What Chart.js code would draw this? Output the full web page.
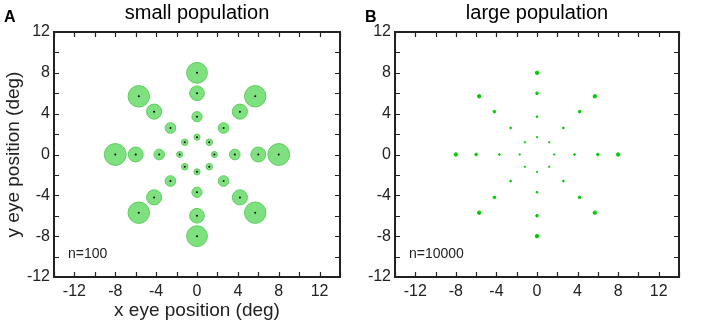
<!DOCTYPE html>
<html>
<head>
<meta charset="utf-8">
<script src="https://cdn.jsdelivr.net/npm/chart.js@4.4.0/dist/chart.umd.min.js"></script>
<style>
  html, body { margin: 0; padding: 0; background: #fff; }
  .panel { position: absolute; top: 0; width: 364px; height: 324px; }
</style>
</head>
<body>
<div class="panel" style="left:0"><canvas id="chartA" width="364" height="324"></canvas></div>
<div class="panel" style="left:364px"><canvas id="chartB" width="364" height="324"></canvas></div>
<script>
// eye positions (deg), 8 directions x 4 eccentricities
const xPos = [8, 6, 3.7, 1.7, 5.7, 4.2, 2.6, 1.2, 0, 0, 0, 0, -5.7, -4.2, -2.6, -1.2,
              -8, -6, -3.7, -1.7, -5.7, -4.2, -2.6, -1.2, 0, 0, 0, 0, 5.7, 4.2, 2.6, 1.2];
const yPos = [0, 0, 0, 0, 5.7, 4.2, 2.6, 1.2, 8, 6, 3.7, 1.7, 5.7, 4.2, 2.6, 1.2,
              0, 0, 0, 0, -5.7, -4.2, -2.6, -1.2, -8, -6, -3.7, -1.7, -5.7, -4.2, -2.6, -1.2];
// spread of the estimate (deg) for each point
const spreadSmall = [1.07, 0.73, 0.52, 0.3, 1.05, 0.74, 0.52, 0.32, 1.02, 0.72, 0.5, 0.3, 1.05, 0.74, 0.52, 0.32,
                     1.07, 0.73, 0.52, 0.3, 1.05, 0.74, 0.52, 0.32, 1.02, 0.72, 0.5, 0.3, 1.05, 0.74, 0.52, 0.32];
const spreadLarge = [0.17, 0.13, 0.09, 0.07, 0.17, 0.13, 0.09, 0.07, 0.17, 0.13, 0.09, 0.07, 0.17, 0.13, 0.09, 0.07,
                     0.17, 0.13, 0.09, 0.07, 0.17, 0.13, 0.09, 0.07, 0.17, 0.13, 0.09, 0.07, 0.17, 0.13, 0.09, 0.07];
const xTicks = [-12, -8, -4, 0, 4, 8, 12];
const yTicks = [-12, -8, -4, 0, 4, 8, 12];

const FONT = "'Liberation Sans', Arial, Helvetica, sans-serif";
const points = xPos.map((x, i) => ({ x: x, y: yPos[i] }));

// radius in pixels from a spread in deg, through the x scale
function spreadRadius(spread) {
    return ctx => {
        const s = ctx.chart.scales.x;
        return Math.abs(s.getPixelForValue(spread[ctx.dataIndex]) - s.getPixelForValue(0));
    };
}

// box round the plot, inward ticks, panel letter, title and n= label
const framePlugin = {
    id: 'frame',
    afterDraw(chart, args, opts) {
        const c = chart.ctx;
        const a = chart.chartArea;
        const sx = chart.scales.x, sy = chart.scales.y;
        c.save();
        c.strokeStyle = '#222';
        c.lineWidth = 1.2;
        c.beginPath();
        sx.ticks.forEach(t => {
            const px = Math.round(sx.getPixelForValue(t.value)) + 0.5;
            c.moveTo(px, a.bottom); c.lineTo(px, a.bottom - 5);
            c.moveTo(px, a.top); c.lineTo(px, a.top + 5);
        });
        sy.ticks.forEach(t => {
            const py = Math.round(sy.getPixelForValue(t.value)) + 0.5;
            c.moveTo(a.left, py); c.lineTo(a.left + 5, py);
            c.moveTo(a.right, py); c.lineTo(a.right - 5, py);
        });
        c.stroke();
        c.lineWidth = 2;
        c.strokeRect(a.left, a.top, a.right - a.left, a.bottom - a.top);

        c.fillStyle = '#000';
        c.font = 'bold 16px ' + FONT;
        c.textAlign = 'left';
        c.textBaseline = 'alphabetic';
        c.fillText(opts.letter, opts.letterX, 22);
        c.font = '20px ' + FONT;
        c.textAlign = 'center';
        c.fillText(opts.title, (a.left + a.right) / 2, 19);
        c.font = '14px ' + FONT;
        c.textAlign = 'left';
        c.fillStyle = '#222';
        c.fillText(opts.note, a.left + 14, a.bottom - 19);
        c.restore();
    }
};

function makeChart(id, spread, fill, border, showCentres, opts) {
    const datasets = [];
    if (showCentres) {
        datasets.push({
            data: points,
            order: 0,
            pointRadius: 1,
            pointBackgroundColor: '#000',
            pointBorderWidth: 0
        });
    }
    datasets.push({
        data: points,
        order: 1,
        pointRadius: spreadRadius(spread),
        pointBackgroundColor: fill,
        pointBorderColor: border,
        pointBorderWidth: 1
    });
    const tickFont = { family: FONT, size: 16 };
    return new Chart(document.getElementById(id), {
        type: 'scatter',
        data: { datasets: datasets },
        options: {
            responsive: false,
            animation: false,
            events: [],
            layout: { padding: { left: 0, right: opts.right, top: 32, bottom: 0 } },
            plugins: {
                legend: { display: false },
                tooltip: { enabled: false },
                frame: opts
            },
            scales: {
                x: {
                    type: 'linear', min: -14, max: 14,
                    afterBuildTicks: s => { s.ticks = [-14, -12, -10, -8, -6, -4, -2, 0, 2, 4, 6, 8, 10, 12, 14].map(v => ({ value: v })); },
                    afterFit: s => { s.height = 47; },
                    grid: { display: false, drawTicks: false },
                    border: { display: false },
                    ticks: {
                        autoSkip: false, maxRotation: 0, padding: 5,
                        color: '#222', font: tickFont,
                        callback: v => xTicks.includes(v) ? String(v) : ''
                    },
                    title: {
                        display: opts.axisTitles, text: 'x eye position (deg)',
                        color: '#222', font: { family: FONT, size: 19 }, padding: { top: 0, bottom: 2 }
                    }
                },
                y: {
                    type: 'linear', min: -12, max: 12,
                    afterBuildTicks: s => { s.ticks = [-12, -10, -8, -6, -4, -2, 0, 2, 4, 6, 8, 10, 12].map(v => ({ value: v })); },
                    afterFit: s => { s.width = opts.yWidth; },
                    grid: { display: false, drawTicks: false },
                    border: { display: false },
                    ticks: {
                        autoSkip: false, padding: 4,
                        color: '#222', font: tickFont,
                        callback: v => yTicks.includes(v) ? String(v) : ''
                    },
                    title: {
                        display: opts.axisTitles, text: 'y eye position (deg)',
                        color: '#222', font: { family: FONT, size: 19 }, padding: { top: 2, bottom: 0 }
                    }
                }
            }
        },
        plugins: [framePlugin]
    });
}

makeChart('chartA', spreadSmall, 'rgba(120, 222, 120, 0.95)', '#5fcd5f', true,
    { letter: 'A', letterX: 4, title: 'small population', note: 'n=100', right: 24, yWidth: 54, axisTitles: true });
makeChart('chartB', spreadLarge, '#00cc00', '#00cc00', false,
    { letter: 'B', letterX: 1, title: 'large population', note: 'n=10000', right: 49, yWidth: 31, axisTitles: false });
</script>
</body>
</html>
